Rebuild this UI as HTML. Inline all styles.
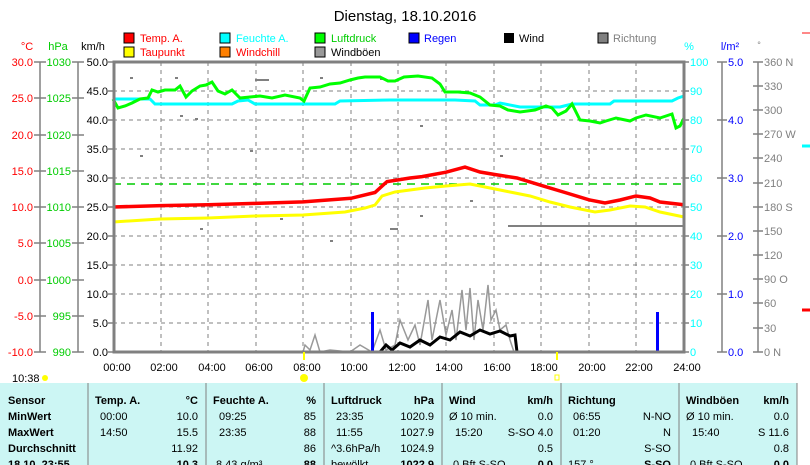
<!DOCTYPE html>
<html><head><meta charset="utf-8"><style>
body{margin:0;background:#fff;width:810px;height:465px;overflow:hidden;font-family:"Liberation Sans",sans-serif;}
svg{position:absolute;left:0;top:0}
.tb{position:absolute;left:0;top:383px;width:797px;height:82px;background:#ccf6f4;}
</style></head><body>
<div class="tb"></div>
<svg width="810" height="465" font-family="Liberation Sans, sans-serif" font-size="11">
<text x="405" y="21" text-anchor="middle" font-size="15">Dienstag, 18.10.2016</text>
<rect x="124" y="33" width="10" height="10" fill="#f00" stroke="#000"/><text x="140" y="42" fill="#f00">Temp. A.</text>
<rect x="220" y="33" width="10" height="10" fill="#0ff" stroke="#000"/><text x="236" y="42" fill="#0ff">Feuchte A.</text>
<rect x="315" y="33" width="10" height="10" fill="#0f0" stroke="#000"/><text x="331" y="42" fill="#0c0">Luftdruck</text>
<rect x="409" y="33" width="10" height="10" fill="#00f" stroke="#000"/><text x="424" y="42" fill="#00f">Regen</text>
<rect x="504" y="33" width="10" height="10" fill="#000"/><text x="519" y="42">Wind</text>
<rect x="598" y="33" width="10" height="10" fill="#808080" stroke="#000"/><text x="613" y="42" fill="#808080">Richtung</text>
<rect x="124" y="47" width="10" height="10" fill="#ff0" stroke="#000"/><text x="140" y="56" fill="#f00">Taupunkt</text>
<rect x="220" y="47" width="10" height="10" fill="#ff8000" stroke="#000"/><text x="236" y="56" fill="#f00">Windchill</text>
<rect x="315" y="47" width="10" height="10" fill="#999" stroke="#000"/><text x="331" y="56">Windböen</text>
<text x="27" y="50" fill="#f00" text-anchor="middle">°C</text>
<text x="58" y="50" fill="#0c0" text-anchor="middle">hPa</text>
<text x="93" y="50" text-anchor="middle">km/h</text>
<text x="689" y="50" fill="#0ff" text-anchor="middle">%</text>
<text x="730" y="50" fill="#00f" text-anchor="middle">l/m²</text>
<text x="759" y="48" fill="#808080" text-anchor="middle" font-size="9">°</text>
<g stroke="#808080" stroke-width="1.5">
<line x1="40" y1="62" x2="40" y2="352"/><line x1="78" y1="62" x2="78" y2="352"/>
<line x1="722" y1="62" x2="722" y2="352"/><line x1="758" y1="62" x2="758" y2="352"/>
<path d="M34 62h12M34 98h12M34 135h12M34 171h12M34 207h12M34 243h12M34 280h12M34 316h12M34 352h12"/>
<path d="M72 62h12M72 98h12M72 135h12M72 171h12M72 207h12M72 243h12M72 280h12M72 316h12M72 352h12"/>
<path d="M108 62h6M108 91h6M108 120h6M108 149h6M108 178h6M108 207h6M108 236h6M108 265h6M108 294h6M108 323h6M108 352h6"/>
<path d="M684 62h5M684 91h5M684 120h5M684 149h5M684 178h5M684 207h5M684 236h5M684 265h5M684 294h5M684 323h5M684 352h5"/>
<path d="M717 62h10M717 120h10M717 178h10M717 236h10M717 294h10M717 352h10"/>
<path d="M753 62h10M753 86h10M753 110h10M753 134h10M753 158h10M753 183h10M753 207h10M753 231h10M753 255h10M753 279h10M753 303h10M753 328h10M753 352h10"/>
</g>
<g stroke="#808080" stroke-dasharray="4,4" stroke-width="1">
<path d="M161 62v290M208 62v290M256 62v290M303 62v290M351 62v290M398 62v290M446 62v290M494 62v290M541 62v290M589 62v290M636 62v290"/>
<path d="M113 91h571M113 120h571M113 149h571M113 178h571M113 207h571M113 236h571M113 265h571M113 294h571M113 323h571"/>
</g>
<line x1="113" y1="184" x2="684" y2="184" stroke="#0c0" stroke-dasharray="8,6" stroke-width="1.5"/>
<line x1="508" y1="226" x2="684" y2="226" stroke="#808080" stroke-width="2"/>
<g fill="#808080">
<rect x="130" y="77" width="3" height="2"/><rect x="175" y="77" width="3" height="2"/><rect x="255" y="79" width="14" height="2"/><rect x="320" y="77" width="3" height="2"/><rect x="380" y="78" width="3" height="2"/><rect x="180" y="115" width="3" height="2"/><rect x="195" y="118" width="3" height="2"/><rect x="140" y="155" width="3" height="2"/><rect x="250" y="150" width="3" height="2"/><rect x="420" y="125" width="3" height="2"/><rect x="500" y="155" width="3" height="2"/><rect x="330" y="240" width="3" height="2"/><rect x="390" y="228" width="8" height="2"/><rect x="420" y="215" width="3" height="2"/><rect x="470" y="200" width="3" height="2"/><rect x="200" y="228" width="3" height="2"/><rect x="280" y="218" width="3" height="2"/>
</g>
<polyline fill="none" stroke="#999" stroke-width="1.5" points="303,352 305,345 310,350 315,335 320,352 330,350 350,352 360,345 372,352 380,330 386,350 395,345 400,320 408,340 415,325 420,345 428,300 432,340 440,300 446,335 452,310 456,340 462,290 466,330 470,288 474,340 478,300 483,330 488,285 491,320 496,310 500,330 506,325 510,340 514,352"/>
<rect x="371" y="312" width="3" height="40" fill="#00f"/><rect x="656" y="312" width="3" height="40" fill="#00f"/>
<polyline fill="none" stroke="#000" stroke-width="3" points="113,352 380,352 386,345 392,350 400,343 410,347 420,340 430,345 440,337 450,340 460,332 470,336 480,330 490,334 500,331 510,336 515,335 517,352"/>
<polyline fill="none" stroke="#0ff" stroke-width="3" points="113,99 150,99 155,104 232,104 238,101 248,100 255,104 335,104 340,101 390,100 455,100 475,101 480,105 495,105 500,103 520,107 560,107 572,104 610,104 614,101 672,101 678,98 684,96"/>
<polyline fill="none" stroke="#0f0" stroke-width="3" points="113,99 118,108 125,106 132,103 140,99 148,98 152,90 158,92 165,90 175,90 180,86 186,97 192,91 200,86 206,85 212,82 218,91 225,94 232,90 240,98 250,97 260,96 272,98 285,95 300,98 304,101 310,88 320,87 330,84 340,83 350,80 358,78 365,77 380,77 388,81 395,81 404,77 418,76 432,78 440,84 445,92 458,92 470,93 480,97 490,105 500,106 508,110 520,112 535,110 546,106 552,108 558,115 566,111 572,104 580,120 590,121 600,123 606,121 616,118 630,121 636,118 646,115 660,118 672,114 676,128 680,126 684,118"/>
<polyline fill="none" stroke="#ff0" stroke-width="3" points="113,222 160,219 208,218 256,216 303,215 345,212 365,208 375,205 382,196 395,192 410,190 425,188 446,186 470,184 490,188 510,192 530,196 550,202 570,207 595,212 610,210 630,206 645,207 660,212 684,217"/>
<polyline fill="none" stroke="#f00" stroke-width="3.5" points="113,207 161,205.6 208,204.8 256,203.4 303,201.9 351,198.3 375,192.5 387,181.6 410,178 422,176.6 446,172.2 465,167.1 480,172 494,174.4 517,178 541,185.3 565,192.5 589,199.8 605,203 620,200 636,196 650,198 660,202 684,204.8"/>
<rect x="114" y="62" width="570" height="290" fill="none" stroke="#808080" stroke-width="3"/>
<g text-anchor="end" fill="#f00">
<text x="33" y="66">30.0</text><text x="33" y="102">25.0</text><text x="33" y="139">20.0</text><text x="33" y="175">15.0</text><text x="33" y="211">10.0</text><text x="33" y="247">5.0</text><text x="33" y="284">0.0</text><text x="33" y="320">-5.0</text><text x="33" y="356">-10.0</text>
</g>
<g text-anchor="end" fill="#0c0">
<text x="71" y="66">1030</text><text x="71" y="102">1025</text><text x="71" y="139">1020</text><text x="71" y="175">1015</text><text x="71" y="211">1010</text><text x="71" y="247">1005</text><text x="71" y="284">1000</text><text x="71" y="320">995</text><text x="71" y="356">990</text>
</g>
<g text-anchor="end">
<text x="108" y="66">50.0</text><text x="108" y="95">45.0</text><text x="108" y="124">40.0</text><text x="108" y="153">35.0</text><text x="108" y="182">30.0</text><text x="108" y="211">25.0</text><text x="108" y="240">20.0</text><text x="108" y="269">15.0</text><text x="108" y="298">10.0</text><text x="108" y="327">5.0</text><text x="108" y="356">0.0</text>
</g>
<g fill="#0ff"><text x="690" y="66">100</text><text x="690" y="95">90</text><text x="690" y="124">80</text><text x="690" y="153">70</text><text x="690" y="182">60</text><text x="690" y="211">50</text><text x="690" y="240">40</text><text x="690" y="269">30</text><text x="690" y="298">20</text><text x="690" y="327">10</text><text x="690" y="356">0</text></g>
<g fill="#00f"><text x="728" y="66">5.0</text><text x="728" y="124">4.0</text><text x="728" y="182">3.0</text><text x="728" y="240">2.0</text><text x="728" y="298">1.0</text><text x="728" y="356">0.0</text></g>
<g fill="#808080"><text x="764" y="66">360 N</text><text x="764" y="90">330</text><text x="764" y="114">300</text><text x="764" y="138">270 W</text><text x="764" y="162">240</text><text x="764" y="187">210</text><text x="764" y="211">180 S</text><text x="764" y="235">150</text><text x="764" y="259">120</text><text x="764" y="283">90 O</text><text x="764" y="307">60</text><text x="764" y="332">30</text><text x="764" y="356">0 N</text></g>
<g text-anchor="middle"><text x="117" y="371">00:00</text><text x="164" y="371">02:00</text><text x="212" y="371">04:00</text><text x="259" y="371">06:00</text><text x="307" y="371">08:00</text><text x="354" y="371">10:00</text><text x="402" y="371">12:00</text><text x="449" y="371">14:00</text><text x="497" y="371">16:00</text><text x="544" y="371">18:00</text><text x="592" y="371">20:00</text><text x="639" y="371">22:00</text><text x="687" y="371">24:00</text></g>
<text x="12" y="382">10:38</text>
<circle cx="45" cy="378" r="3" fill="#ff0"/><circle cx="304" cy="378" r="4" fill="#ff0"/><rect x="555" y="375" width="4" height="5" fill="none" stroke="#ff0"/>
<line x1="304" y1="352" x2="304" y2="360" stroke="#ff0" stroke-width="2"/><line x1="557" y1="352" x2="557" y2="360" stroke="#ff0" stroke-width="2"/>
<path d="M802 33h8" stroke="#f88" stroke-width="2"/><path d="M802 310h8" stroke="#f00" stroke-width="3"/><path d="M802 146h8" stroke="#0ff" stroke-width="3"/>
<g stroke="#808080"><path d="M88 383v82M206 383v82M324 383v82M442 383v82M561 383v82M679 383v82M797 383v82"/></g>
<g font-weight="bold"><text x="8" y="404">Sensor</text><text x="8" y="420">MinWert</text><text x="8" y="436">MaxWert</text><text x="8" y="452">Durchschnitt</text><text x="8" y="468">18.10. 23:55</text>
<text x="95" y="404">Temp. A.</text><text x="198" y="404" text-anchor="end">°C</text>
<text x="213" y="404">Feuchte A.</text><text x="316" y="404" text-anchor="end">%</text>
<text x="331" y="404">Luftdruck</text><text x="434" y="404" text-anchor="end">hPa</text>
<text x="449" y="404">Wind</text><text x="553" y="404" text-anchor="end">km/h</text>
<text x="568" y="404">Richtung</text>
<text x="686" y="404">Windböen</text><text x="789" y="404" text-anchor="end">km/h</text>
<text x="198" y="468" text-anchor="end">10.3</text><text x="316" y="468" text-anchor="end">88</text><text x="434" y="468" text-anchor="end">1022.9</text><text x="553" y="468" text-anchor="end">0.0</text><text x="671" y="468" text-anchor="end">S-SO</text><text x="789" y="468" text-anchor="end">0.0</text></g>
<text x="100" y="420">00:00</text><text x="198" y="420" text-anchor="end">10.0</text><text x="100" y="436">14:50</text><text x="198" y="436" text-anchor="end">15.5</text><text x="198" y="452" text-anchor="end">11.92</text>
<text x="219" y="420">09:25</text><text x="316" y="420" text-anchor="end">85</text><text x="219" y="436">23:35</text><text x="316" y="436" text-anchor="end">88</text><text x="316" y="452" text-anchor="end">86</text><text x="216" y="468">8.43 g/m³</text>
<text x="336" y="420">23:35</text><text x="434" y="420" text-anchor="end">1020.9</text><text x="336" y="436">11:55</text><text x="434" y="436" text-anchor="end">1027.9</text><text x="331" y="452">^3.6hPa/h</text><text x="434" y="452" text-anchor="end">1024.9</text><text x="331" y="468">bewölkt</text>
<text x="449" y="420">Ø 10 min.</text><text x="553" y="420" text-anchor="end">0.0</text><text x="455" y="436">15:20</text><text x="553" y="436" text-anchor="end">S-SO 4.0</text><text x="553" y="452" text-anchor="end">0.5</text><text x="453" y="468">0 Bft S-SO</text>
<text x="573" y="420">06:55</text><text x="671" y="420" text-anchor="end">N-NO</text><text x="573" y="436">01:20</text><text x="671" y="436" text-anchor="end">N</text><text x="671" y="452" text-anchor="end">S-SO</text><text x="568" y="468">157 °</text>
<text x="686" y="420">Ø 10 min.</text><text x="789" y="420" text-anchor="end">0.0</text><text x="692" y="436">15:40</text><text x="789" y="436" text-anchor="end">S 11.6</text><text x="789" y="452" text-anchor="end">0.8</text><text x="690" y="468">0 Bft S-SO</text>
</svg>
</body></html>
